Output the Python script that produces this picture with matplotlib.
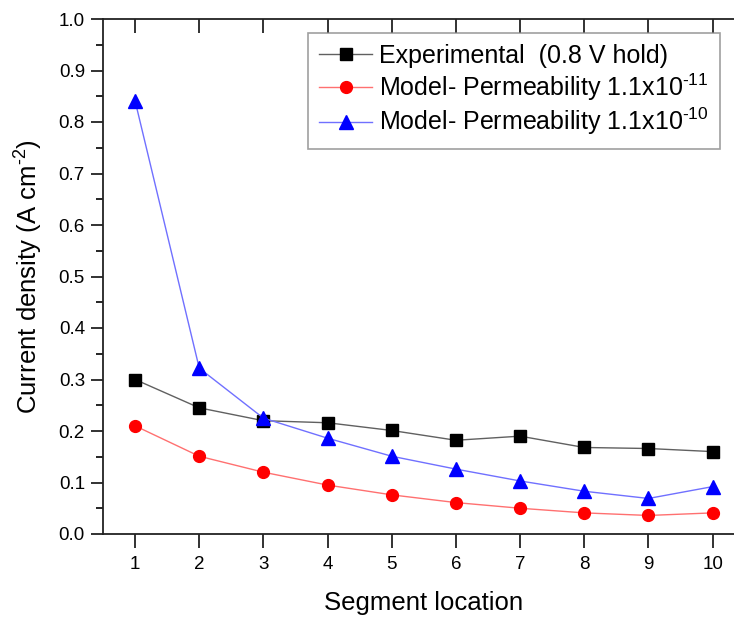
import matplotlib
matplotlib.use("Agg")
import matplotlib.pyplot as plt

plt.rcParams['font.family'] = ['Liberation Sans', 'DejaVu Sans']
plt.rcParams['mathtext.default'] = 'regular'

segments = [1, 2, 3, 4, 5, 6, 7, 8, 9, 10]
experimental = [0.300, 0.245, 0.220, 0.216, 0.201, 0.182, 0.190, 0.168, 0.166, 0.160]
model_perm_11 = [0.210, 0.151, 0.120, 0.095, 0.076, 0.061, 0.050, 0.041, 0.036, 0.041]
model_perm_10 = [0.841, 0.322, 0.225, 0.186, 0.151, 0.126, 0.103, 0.083, 0.069, 0.092]

HY = "\u2010"  # typographic hyphen, so exponents keep a short dash
labels = ["Experimental  (0.8 V hold)",
          "Model- Permeability 1.1x10$^{" + HY + "11}$",
          "Model- Permeability 1.1x10$^{" + HY + "10}$"]

W, H = 734, 617
fig = plt.figure(figsize=(W / 100, H / 100), dpi=100)
left, right, top, bottom = 103, 744.7, 19, 534
ax = fig.add_axes([left / W, 1 - bottom / H, (right - left) / W, (bottom - top) / H])

ax.plot(segments, experimental, color='#606060', lw=1.0, marker='s', ms=8,
        mfc='black', mec='black', label=labels[0])
ax.plot(segments, model_perm_11, color='#ff7070', lw=1.0, marker='o', ms=8.5,
        mfc='red', mec='red', label=labels[1])
ax.plot(segments, model_perm_10, color='#7070ff', lw=1.0, marker='^', ms=9.5,
        mfc='blue', mec='blue', label=labels[2])

ax.set_xlim(0.5, 10.5)
ax.set_ylim(0, 1.0)
ax.set_xticks(segments)
ax.set_yticks([i / 10 for i in range(11)])
ax.set_yticks([0.05 + i / 10 for i in range(10)], minor=True)
ax.set_yticklabels([f"{i / 10:.1f}" for i in range(11)])

for s in ax.spines.values():
    s.set_linewidth(1.3)
    s.set_color('#222222')

ax.tick_params(axis='both', which='major', labelsize=13.5, width=1.3, color='#222222')
ax.tick_params(axis='y', which='major', direction='out', length=9, pad=4)
ax.tick_params(axis='y', which='minor', direction='out', length=5, width=1.2)
ax.tick_params(axis='x', which='major', direction='out', length=10, pad=6)

# mirrored ticks along the top edge, pointing inward
top_ax = ax.secondary_xaxis('top')
top_ax.set_xticks(segments)
top_ax.tick_params(direction='in', length=10, width=1.3, labeltop=False, color='#222222')
top_ax.spines['top'].set_visible(False)

ax.set_xlabel("Segment location", fontsize=18.5, labelpad=13)
ax.set_ylabel("Current density (A cm$^{" + HY + "2}$)", fontsize=18.5, labelpad=10)

leg = ax.legend(loc='upper left', bbox_to_anchor=(308 / W, 1 - 32.7 / H),
                bbox_transform=fig.transFigure, fontsize=18, frameon=True,
                fancybox=False, edgecolor='#888888', borderaxespad=0,
                handlelength=2.1, handletextpad=0.3, labelspacing=0.13,
                borderpad=0.45)
leg.get_frame().set_linewidth(1.2)

fig.savefig("out.png", dpi=100)
